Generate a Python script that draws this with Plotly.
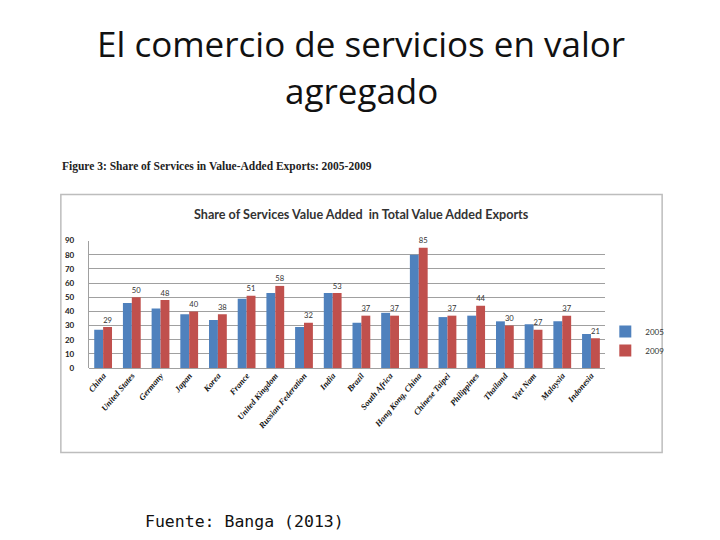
import plotly.graph_objects as go

# Countries and shares of services in value-added exports (%)
countries = ['China', 'United States', 'Germany', 'Japan', 'Korea', 'France',
             'United Kingdom', 'Russian Federation', 'India', 'Brazil',
             'South Africa', 'Hong Kong, China', 'Chinese Taipei', 'Philippines',
             'Thailand', 'Viet Nam', 'Malaysia', 'Indonesia']
share_2005 = [27, 46, 42, 38, 34, 49, 53, 29, 53, 32, 39, 80, 36, 37, 33, 31, 33, 24]
share_2009 = [29, 50, 48, 40, 38, 51, 58, 32, 53, 37, 37, 85, 37, 44, 30, 27, 37, 21]

# page body has an 8px margin, so the figure is a bit smaller than the window
OFF = 8
W, H = 720 - 2 * OFF, 540 - 2 * OFF


def px(x):
    return (x - OFF) / W


def py(y):
    return 1 - (y - OFF) / H


fig = go.Figure()
fig.add_trace(go.Bar(x=countries, y=share_2005, name='2005',
                     marker=dict(color='#4F81BD', line=dict(width=0))))
fig.add_trace(go.Bar(x=countries, y=share_2009, name='2009',
                     marker=dict(color='#C0504D', line=dict(width=0)),
                     text=share_2009, textposition='outside', cliponaxis=False,
                     textfont=dict(family='Lato', size=10.5, color='#333333')))

# Border around the embedded chart
fig.add_shape(type='rect', xref='paper', yref='paper',
              x0=px(59), x1=px(662), y0=py(456), y1=py(193),
              line=dict(color='#BDBDBD', width=1.5))

annotations = [
    dict(text='El comercio de servicios en valor', x=px(360), y=py(39),
         font=dict(family='Open Sans', size=35, color='#111111')),
    dict(text='agregado', x=px(360), y=py(87),
         font=dict(family='Open Sans', size=35, color='#111111')),
    dict(text='<b>Figure 3: Share of Services in Value-Added Exports: 2005-2009</b>',
         x=px(58), y=py(164), xanchor='left',
         font=dict(family='Liberation Serif', size=11.5, color='#222222')),
    dict(text='<b>Share of Services Value Added  in Total Value Added Exports</b>',
         x=px(361), y=py(213),
         font=dict(family='Lato', size=12.6, color='#333333')),
    # footer sits at the very bottom of the figure
    dict(text='Fuente: Banga (2013)', x=px(141), y=-6 / H, xanchor='left',
         yanchor='bottom',
         font=dict(family='DejaVu Sans Mono', size=16.5, color='#111111')),
]
for a in annotations:
    a.update(xref='paper', yref='paper', showarrow=False)
    a.setdefault('yanchor', 'middle')
    a.setdefault('xanchor', 'center')
    fig.add_annotation(**a)

fig.update_layout(
    width=W, height=H,
    margin=dict(l=0, r=0, t=0, b=0),
    plot_bgcolor='white', paper_bgcolor='white',
    barmode='group', bargap=0.38, bargroupgap=0,
    showlegend=True,
    legend=dict(x=px(605), y=py(318), xanchor='left', yanchor='top',
                font=dict(family='Lato', size=8, color='#333333'),
                tracegroupgap=18, itemwidth=30, bgcolor='rgba(0,0,0,0)'),
    xaxis=dict(domain=[px(87), px(605)], tickangle=-50, showgrid=False,
               showline=False, ticks='',
               tickfont=dict(family='Liberation Serif', size=8.5, color='#111111',
                             weight='bold', style='italic')),
    yaxis=dict(domain=[py(370), py(240)], range=[0, 90], dtick=10,
               showgrid=True, gridcolor='#A0A0A0', gridwidth=1,
               zeroline=True, zerolinecolor='#A0A0A0', zerolinewidth=1,
               showline=True, linecolor='#A0A0A0', linewidth=1,
               ticks='', ticklabelstandoff=12,
               tickfont=dict(family='Lato', size=8, color='#222222', weight='bold')),
)

fig.write_html("out.html")
